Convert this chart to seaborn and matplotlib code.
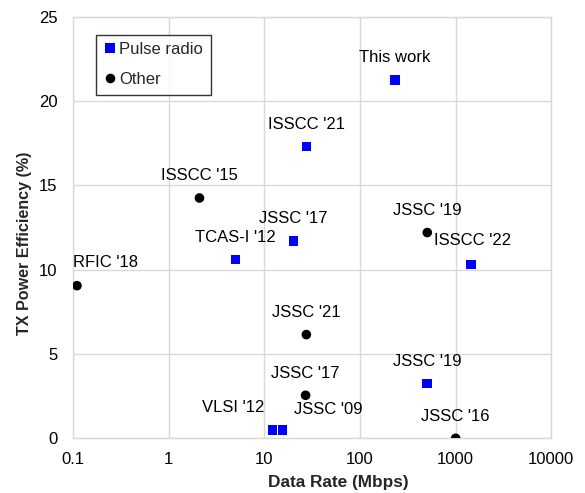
import matplotlib
matplotlib.use("Agg")
import matplotlib.pyplot as plt
import seaborn as sns
import pandas as pd
from matplotlib.ticker import FixedLocator, FixedFormatter, NullLocator

# ---- data ----
labels = ["This work", "ISSCC '21", "JSSC '17", "TCAS-I '12", "ISSCC '22", "JSSC '19",
          "VLSI '12", "JSSC '09",
          "JSSC '19", "ISSCC '15", "RFIC '18", "JSSC '21", "JSSC '17", "JSSC '16"]
data_rate = [233, 27.5, 20.2, 5.0, 1450, 505,
             12.2, 15.5,
             505, 2.1, 0.11, 27.5, 27.0, 1000]
efficiency = [21.25, 17.3, 11.7, 10.6, 10.3, 3.25,
              0.5, 0.5,
              12.2, 14.25, 9.05, 6.15, 2.55, 0.0]
category = ["Pulse radio"] * 8 + ["Other"] * 6

x_ticks = [0.1, 1, 10, 100, 1000, 10000]
x_tick_labels = ["0.1", "1", "10", "100", "1000", "10000"]
y_ticks = [0, 5, 10, 15, 20, 25]

# label offsets in points (dx, dy) and alignment
label_offsets = [(0, 16, "center"), (0, 16, "center"), (0, 16, "center"), (0, 16, "center"),
                 (1, 17, "center"), (0, 16, "center"),
                 (-6, 16, "right"), (8, 15, "left"),
                 (0, 16, "center"), (0, 16, "center"), (-3, 17, "left"), (0, 16, "center"),
                 (0, 16, "center"), (0, 16, "center")]

df = pd.DataFrame({"Data Rate": data_rate, "Efficiency": efficiency,
                   "Category": category, "Label": labels})

sns.set_theme(style="white")
plt.rcParams["font.family"] = ["Liberation Sans", "DejaVu Sans"]

fig = plt.figure(figsize=(5.85, 4.93), dpi=100)
ax = fig.add_axes([73 / 585, 1 - 438.3 / 493, (551.3 - 73) / 585, (438.3 - 16.7) / 493])

palette = {"Pulse radio": "#0000FF", "Other": "#000000"}
markers = {"Pulse radio": "s", "Other": "o"}
sns.scatterplot(data=df, x="Data Rate", y="Efficiency", hue="Category", style="Category",
                palette=palette, markers=markers, s=48, linewidth=0, ax=ax, zorder=3,
                hue_order=["Pulse radio", "Other"], style_order=["Pulse radio", "Other"])

ax.set_xscale("log")
ax.set_xlim(0.1, 10000)
ax.set_ylim(0, 25)
ax.xaxis.set_major_locator(FixedLocator(x_ticks))
ax.xaxis.set_major_formatter(FixedFormatter(x_tick_labels))
ax.xaxis.set_minor_locator(NullLocator())
ax.set_yticks(y_ticks)

ax.grid(True, which="major", color="#d9d9d9", linewidth=1.0)
ax.set_axisbelow(True)
for sp in ax.spines.values():
    sp.set_color("#d9d9d9")
    sp.set_linewidth(1.0)
ax.tick_params(axis="both", length=0, labelsize=12, colors="black")
ax.tick_params(axis="y", pad=11)
ax.tick_params(axis="x", pad=10)

ax.set_xlabel("Data Rate (Mbps)", fontsize=12.4, fontweight="bold")
ax.set_ylabel("TX Power Efficiency (%)", fontsize=11.6, fontweight="bold")
ax.xaxis.set_label_coords(0.554, -0.088)
ax.yaxis.set_label_coords(-0.086, 0.463)

for lab, xv, yv, (dx, dy, ha) in zip(labels, data_rate, efficiency, label_offsets):
    ax.annotate(lab, (xv, yv), xytext=(dx, dy), textcoords="offset points",
                ha=ha, va="center", fontsize=12, color="black")

handles, leg_labels = ax.get_legend_handles_labels()
ax.legend(handles, leg_labels, loc="upper left", bbox_to_anchor=(0.048, 0.957),
          borderaxespad=0, frameon=True, fancybox=False, edgecolor="black",
          fontsize=12, handletextpad=0.15, handlelength=0.8, borderpad=0.45,
          labelspacing=0.9, markerscale=1.0)
ax.get_legend().get_frame().set_linewidth(1.0)

fig.savefig("out.png", dpi=100)
